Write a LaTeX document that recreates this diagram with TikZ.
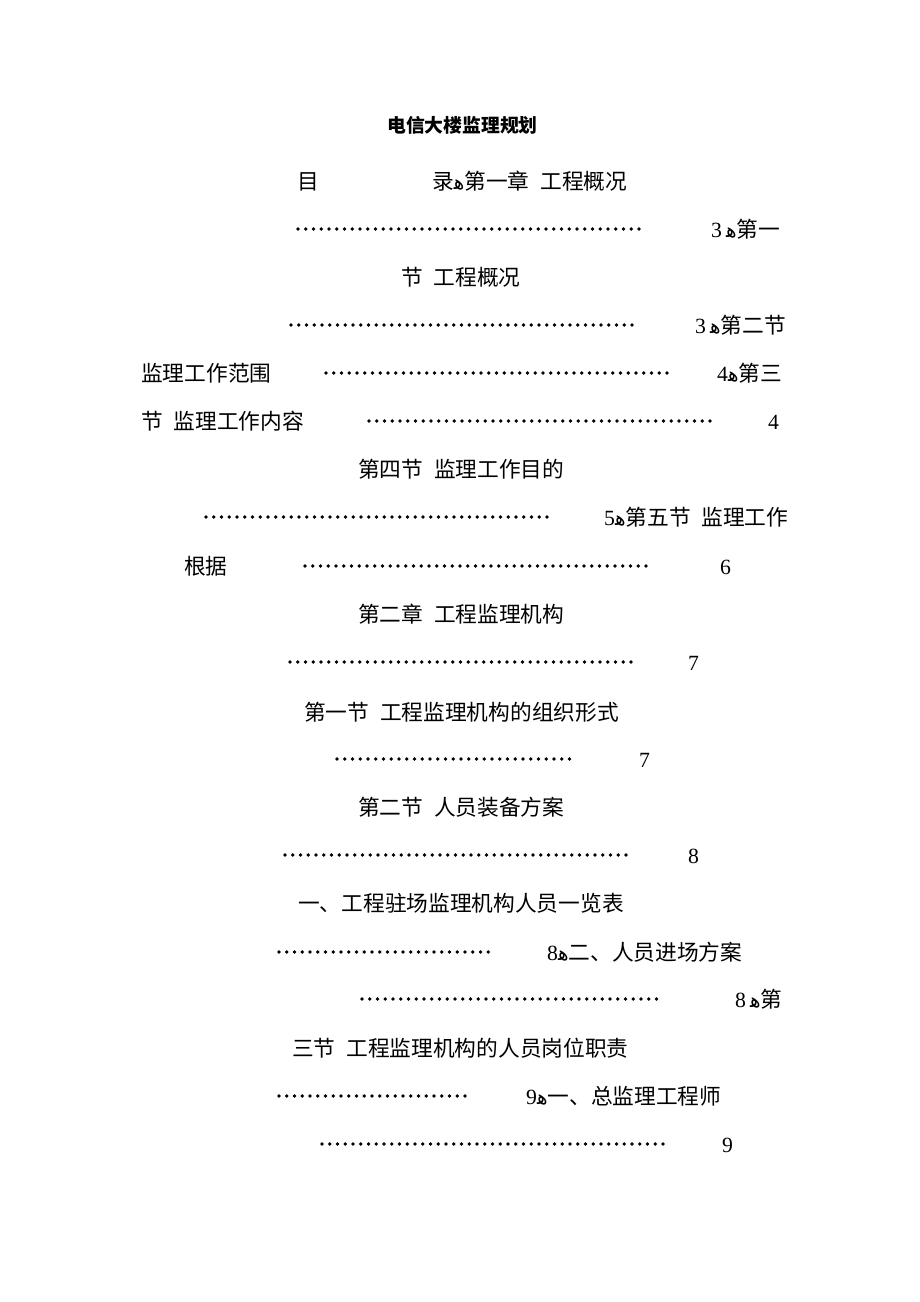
\documentclass[tikz,border=0pt]{standalone}
\usepackage{fontspec}
\setmainfont{Liberation Serif}
\newfontfamily\cjk{Noto Sans CJK SC}
\newfontfamily\hhfont{DejaVu Sans}
\newcommand\hh{{\hhfont\fontsize{20}{20}\selectfont ﻫ}}
\newcommand\nm[1]{{\rmfamily #1}}
\newcommand\hsp{\hspace{.5em}}
\begin{document}
\begin{tikzpicture}[x=1pt,y=-1pt,
  txt/.style={inner sep=0pt,anchor=base west,font=\cjk\fontsize{21.7}{21.7}\selectfont},
  ttl/.style={inner sep=0pt,anchor=base west,font=\cjk\bfseries\fontsize{18.8}{18.8}\selectfont},
  dots/.style={line width=3.6pt,line cap=round,dash pattern=on 0pt off 7.75pt}]
\useasboundingbox[fill=white] (0,0) rectangle (920,1302);
% title
\node[ttl] (t0) at (387,132) {电信大楼监理规划};
% line 2
\node[txt] (a1) at (297,189) {目};
\node[txt] (a2) at (432,189) {录\hh 第一章\hsp 工程概况};
% line 3
\draw[dots] (298,229) -- (640,229);
\node[txt] (a3) at (711,237) {\nm{3}\hspace{4pt}\hh 第一};
% line 4
\node[txt] (a4) at (401,285) {节\hsp 工程概况};
% line 5
\draw[dots] (291,325) -- (635,325);
\node[txt] (a5) at (695,333) {\nm{3}\hspace{4pt}\hh 第二节};
% line 6
\node[txt] (a6) at (141,381) {监理工作范围};
\draw[dots] (326,373) -- (668,373);
\node[txt] (a7) at (717,381) {\nm{4}\hh 第三};
% line 7
\node[txt] (a8) at (141,429) {节\hsp 监理工作内容};
\draw[dots] (369,421) -- (712,421);
\node[txt] (a9) at (768,429) {\nm{4}};
% line 8
\node[txt] (b1) at (358,477) {第四节\hsp 监理工作目的};
% line 9
\draw[dots] (206,517) -- (548,517);
\node[txt] (b2) at (604,525) {\nm{5}\hh 第五节\hsp 监理工作};
% line 10
\node[txt] (b3) at (184,574) {根据};
\draw[dots] (305,566) -- (649,566);
\node[txt] (b4) at (720,574) {\nm{6}};
% line 11
\node[txt] (b5) at (358,622) {第二章\hsp 工程监理机构};
% line 12
\draw[dots] (290,662) -- (632,662);
\node[txt] (b6) at (688,670) {\nm{7}};
% line 13
\node[txt] (b7) at (304,720) {第一节\hsp 工程监理机构的组织形式};
% line 14
\draw[dots] (337,759) -- (572,759);
\node[txt] (b8) at (639,767) {\nm{7}};
% line 15
\node[txt] (c1) at (358,815) {第二节\hsp 人员装备方案};
% line 16
\draw[dots] (285,855) -- (627,855);
\node[txt] (c2) at (688,863) {\nm{8}};
% line 17
\node[txt] (c3) at (298,911) {一、工程驻场监理机构人员一览表};
% line 18
\draw[dots] (279,952) -- (490,952);
\node[txt] (c4) at (547,960) {\nm{8}\hh 二、人员进场方案};
% line 19
\draw[dots] (362,999) -- (662,999);
\node[txt] (c5) at (735,1007) {\nm{8}\hspace{4pt}\hh 第};
% line 20
\node[txt] (c6) at (292,1056) {三节\hsp 工程监理机构的人员岗位职责};
% line 21
\draw[dots] (279,1096) -- (469,1096);
\node[txt] (c7) at (526,1104) {\nm{9}\hh 一、总监理工程师};
% line 22
\draw[dots] (322,1144) -- (664,1144);
\node[txt] (c8) at (722,1152) {\nm{9}};
\end{tikzpicture}
\end{document}
